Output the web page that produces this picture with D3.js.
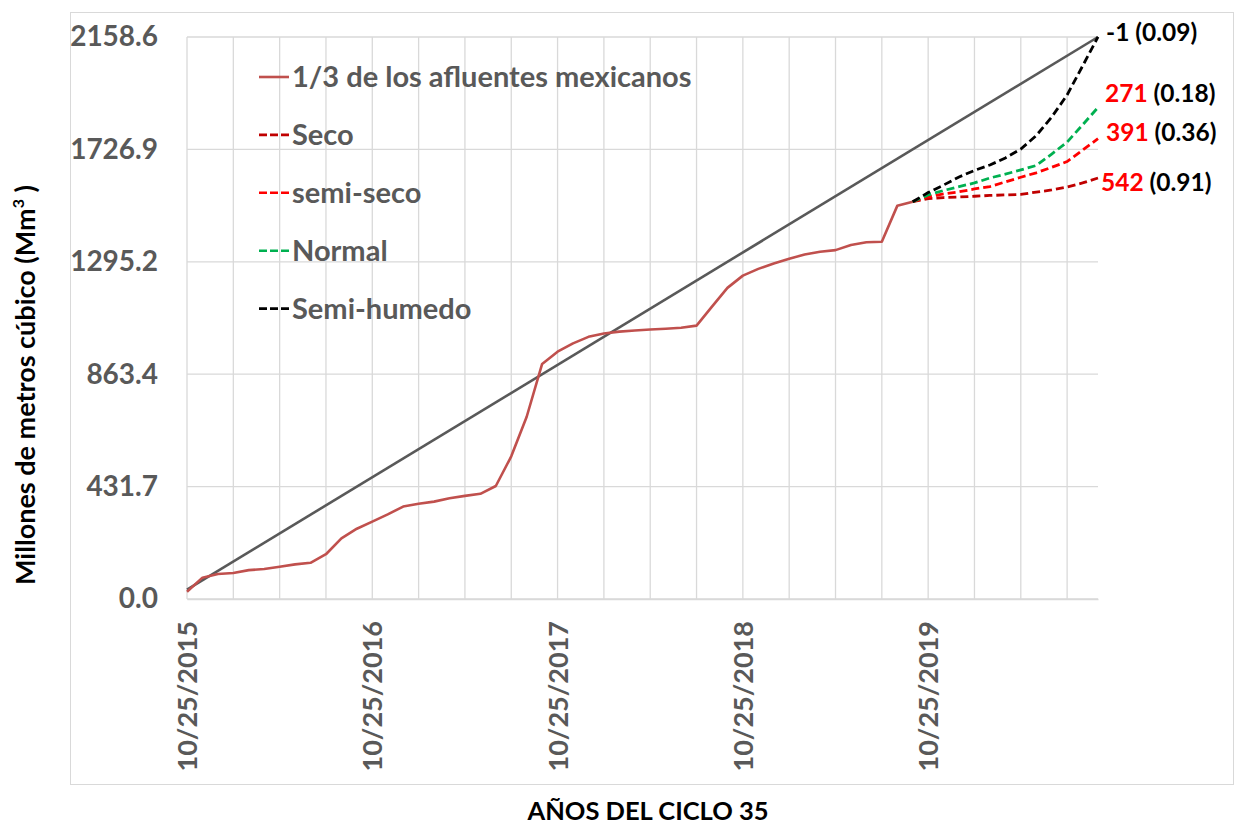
<!DOCTYPE html>
<html>
<head>
<meta charset="utf-8">
<script src="https://cdn.jsdelivr.net/npm/d3@7"></script>
<style>
  body { margin: 0; background: #fff; }
  svg { font-family: Lato, "Open Sans", sans-serif; font-weight: bold; }
</style>
</head>
<body>
<svg width="1235" height="827"></svg>
<script>
// monthly points, index 0 = 10/25/2015, last index 59 = end of cycle 35
var xLabels = [
  {i: 0, label: "10/25/2015"},
  {i: 12, label: "10/25/2016"},
  {i: 24, label: "10/25/2017"},
  {i: 36, label: "10/25/2018"},
  {i: 48, label: "10/25/2019"}
];
var yTicks = [0.0, 431.7, 863.4, 1295.2, 1726.9, 2158.6];

// straight line of the treaty commitment (start and end)
var compromiso = [{i: 0, v: 36}, {i: 59, v: 2158.6}];

// 1/3 of the mexican tributaries, cumulative, months 0..47
var afluentes = [28, 82, 96, 100, 111, 115, 124, 133, 139, 172, 233, 270,
  297, 325, 355, 366, 374, 387, 396, 404, 434, 548, 700, 903,
  950, 982, 1007, 1020, 1027, 1031, 1035, 1038, 1042, 1050, 1123, 1195,
  1242, 1268, 1289, 1307, 1323, 1334, 1340, 1360, 1370, 1372, 1510, 1526];

// scenarios, months 47..59
var escStart = 47;
var seco       = [1526, 1538, 1542, 1544, 1547, 1550, 1552, 1554, 1563, 1571, 1582, 1598, 1617];
var semiSeco   = [1526, 1545, 1556, 1564, 1575, 1584, 1602, 1620, 1637, 1658, 1680, 1724, 1768];
var normal     = [1526, 1552, 1569, 1584, 1598, 1617, 1632, 1648, 1665, 1709, 1755, 1821, 1888];
var semiHumedo = [1526, 1561, 1590, 1621, 1646, 1667, 1694, 1728, 1780, 1851, 1936, 2047, 2159];

var escenarios = [
  {name: "Seco", values: seco, color: "#c00000", deficit: "542", prob: "(0.91)", dy: 4, dx: 3, red: true},
  {name: "semi-seco", values: semiSeco, color: "#ff0000", deficit: "391", prob: "(0.36)", dy: -6, dx: 8, red: true},
  {name: "Normal", values: normal, color: "#00b050", deficit: "271", prob: "(0.18)", dy: -14, dx: 7, red: true},
  {name: "Semi-humedo", values: semiHumedo, color: "#000000", deficit: "-1", prob: "(0.09)", dy: -4, dx: 8, red: false}
];

var svg = d3.select("svg"),
    margin = {top: 37, right: 137, bottom: 228, left: 187},
    width = +svg.attr("width") - margin.left - margin.right,
    height = +svg.attr("height") - margin.top - margin.bottom;

var grey = "#595959";

// outer chart border
svg.append("rect")
    .attr("x", 70.5).attr("y", 12.5)
    .attr("width", 1163).attr("height", 772)
    .attr("fill", "none").attr("stroke", "#d9d9d9");

var g = svg.append("g").attr("transform", "translate(" + margin.left + "," + margin.top + ")");

var x = d3.scaleLinear().domain([0, 59]).range([0, width]);
var y = d3.scaleLinear().domain([0, 2158.6]).range([height, 0]);

// vertical gridlines every 3 months
g.append("g")
    .selectAll("line")
    .data(d3.range(0, 59, 3))
    .enter().append("line")
      .attr("x1", function(d) { return x(d); })
      .attr("x2", function(d) { return x(d); })
      .attr("y1", 0).attr("y2", height)
      .attr("stroke", "#d9d9d9").attr("stroke-width", 1.3);

// horizontal gridlines
g.append("g")
    .selectAll("line")
    .data(yTicks)
    .enter().append("line")
      .attr("x1", 0).attr("x2", width)
      .attr("y1", function(d) { return y(d); })
      .attr("y2", function(d) { return y(d); })
      .attr("stroke", "#d9d9d9").attr("stroke-width", 1.3);

// y axis labels
var yAxis = g.append("g")
    .call(d3.axisLeft(y).tickValues(yTicks).tickFormat(d3.format(".1f")).tickSize(0).tickPadding(29));
yAxis.select(".domain").remove();
yAxis.selectAll("text")
    .attr("fill", grey)
    .attr("font-size", 28)
    .attr("font-family", "Lato, sans-serif")
    .attr("font-weight", "bold");

// x axis labels
var xAxis = g.append("g")
    .attr("transform", "translate(0," + height + ")")
    .call(d3.axisBottom(x)
      .tickValues(xLabels.map(function(d) { return d.i; }))
      .tickFormat(function(d) { return xLabels.filter(function(e) { return e.i === d; })[0].label; })
      .tickSize(0));
xAxis.select(".domain").attr("stroke", "#d9d9d9").attr("stroke-width", 1.3);
xAxis.selectAll("text")
    .attr("fill", grey)
    .attr("font-size", 27)
    .attr("font-family", "Lato, sans-serif")
    .attr("font-weight", "bold")
    .attr("text-anchor", "end")
    .attr("dy", "0.35em")
    .attr("transform", "translate(0,22) rotate(-90)")
    .attr("y", 0).attr("x", 0);

var line = d3.line()
    .x(function(d) { return x(d.i); })
    .y(function(d) { return y(d.v); });

g.append("path")
    .datum(compromiso)
    .attr("fill", "none")
    .attr("stroke", grey)
    .attr("stroke-width", 2.6)
    .attr("d", line);

g.append("path")
    .datum(afluentes.map(function(v, i) { return {i: i, v: v}; }))
    .attr("fill", "none")
    .attr("stroke", "#c0504d")
    .attr("stroke-width", 2.6)
    .attr("stroke-linejoin", "round")
    .attr("d", line);

escenarios.forEach(function(s) {
  var pts = s.values.map(function(v, k) { return {i: escStart + k, v: v}; });
  g.append("path")
      .datum(pts)
      .attr("fill", "none")
      .attr("stroke", s.color)
      .attr("stroke-width", 2.8)
      .attr("stroke-dasharray", "8,4")
      .attr("d", line);

  var last = pts[pts.length - 1];
  var t = g.append("text")
      .attr("x", x(last.i) + s.dx)
      .attr("y", y(last.v) + s.dy)
      .attr("dy", "0.35em")
      .attr("font-size", 24.5);
  t.append("tspan").attr("fill", s.red ? "#ff0000" : "#000").text(s.deficit);
  t.append("tspan").attr("fill", "#000").text(" " + s.prob);
});

// legend
var legendItems = [{name: "1/3 de los afluentes mexicanos", color: "#c0504d", dash: null}]
  .concat(escenarios.map(function(s) { return {name: s.name, color: s.color, dash: "8,3"}; }));

var legend = g.append("g")
  .selectAll("g")
  .data(legendItems)
  .enter().append("g")
    .attr("transform", function(d, i) { return "translate(72," + (40 + i * 57.9) + ")"; });

legend.append("line")
    .attr("x1", 0).attr("x2", 30)
    .attr("stroke", function(d) { return d.color; })
    .attr("stroke-width", 2.6)
    .attr("stroke-dasharray", function(d) { return d.dash; });

legend.append("text")
    .attr("x", 33)
    .attr("dy", "0.35em")
    .attr("fill", grey)
    .attr("font-size", 29)
    .text(function(d) { return d.name; });

// axis titles
var yTitle = svg.append("text")
    .attr("transform", "translate(35,385) rotate(-90)")
    .attr("text-anchor", "middle")
    .attr("fill", "#000")
    .attr("font-size", 27)
    .text("Millones de metros cúbico (Mm");
yTitle.append("tspan").attr("font-size", 16).attr("dy", -11).text("3");
yTitle.append("tspan").attr("dy", 11).text(" )");

svg.append("text")
    .attr("x", 648)
    .attr("y", 820)
    .attr("text-anchor", "middle")
    .attr("fill", "#000")
    .attr("font-size", 25.5)
    .text("AÑOS DEL CICLO 35");
</script>
</body>
</html>
